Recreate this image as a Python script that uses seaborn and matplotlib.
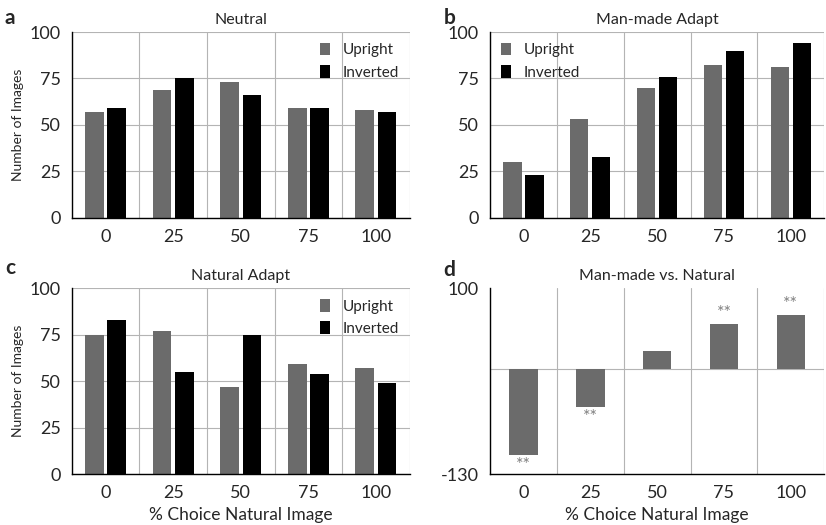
import matplotlib
matplotlib.use("Agg")
import matplotlib.pyplot as plt
import seaborn as sns
import pandas as pd
from matplotlib.ticker import FixedLocator

# data
choices = ["0", "25", "50", "75", "100"]
orients = ["Upright", "Inverted"]

neutral_up = [57, 69, 73, 59, 58]
neutral_inv = [59, 75, 66, 59, 57]
manmade_up = [30, 53, 70, 82, 81]
manmade_inv = [23, 33, 76, 90, 94]
natural_up = [75, 77, 47, 59, 57]
natural_inv = [83, 55, 75, 54, 49]
diff_vals = [-107, -47, 22, 56, 67]
diff_sig = ["**", "**", "", "**", "**"]

sns.set_style("white")
plt.rcParams["font.family"] = ["Lato", "DejaVu Sans"]
plt.rcParams["axes.unicode_minus"] = False

palette = {"Upright": "#6b6b6b", "Inverted": "#000000"}
grid_c = "#b4b4b4"


def long_df(up, inv):
    return pd.DataFrame({
        "choice": choices * 2,
        "orient": ["Upright"] * 5 + ["Inverted"] * 5,
        "count": up + inv,
    })


def style_axes(ax, ymin, ymax, yticks):
    ax.set_xlim(-0.5, 4.5)
    ax.set_ylim(ymin, ymax)
    ax.set_yticks(yticks)
    ax.xaxis.set_minor_locator(FixedLocator([-0.5, 0.5, 1.5, 2.5, 3.5, 4.5]))
    ax.tick_params(axis="x", which="major", length=0, labelsize=13, pad=8)
    ax.tick_params(axis="x", which="minor", direction="inout", length=8, width=1)
    ax.tick_params(axis="y", direction="inout", length=8, width=1, labelsize=13, pad=4)
    ax.set_axisbelow(True)
    ax.grid(True, axis="y", which="major", color=grid_c, lw=0.8)
    ax.grid(True, axis="x", which="minor", color=grid_c, lw=0.8)
    ax.grid(False, axis="x", which="major")
    for s in ["top", "right"]:
        ax.spines[s].set_visible(False)
    for s in ["left", "bottom"]:
        ax.spines[s].set_color("black")
        ax.spines[s].set_linewidth(1.0)
    ax.set_xlabel("")
    ax.set_ylabel("")


fig = plt.figure(figsize=(8.26, 5.25), dpi=100)
ax_a = fig.add_axes([0.087, 0.585, 0.409, 0.354])
ax_b = fig.add_axes([0.593, 0.585, 0.405, 0.354])
ax_c = fig.add_axes([0.087, 0.097, 0.409, 0.354])
ax_d = fig.add_axes([0.593, 0.097, 0.405, 0.354])

panels = [
    (ax_a, neutral_up, neutral_inv, "Neutral", "upper right"),
    (ax_b, manmade_up, manmade_inv, "Man-made Adapt", "upper left"),
    (ax_c, natural_up, natural_inv, "Natural Adapt", "upper right"),
]
for ax, up, inv, title, loc in panels:
    sns.barplot(data=long_df(up, inv), x="choice", y="count", hue="orient",
                hue_order=orients, palette=palette, width=0.66, gap=0.16,
                saturation=1, linewidth=0, ax=ax)
    style_axes(ax, 0, 100, [0, 25, 50, 75, 100])
    ax.set_title(title, fontsize=11.5, pad=6)
    ax.legend(loc=loc, frameon=False, fontsize=11, handlelength=0.7,
              handleheight=0.9, handletextpad=0.8, labelspacing=0.5,
              borderaxespad=0.3)

ax_a.set_ylabel("Number of Images", fontsize=10)
ax_c.set_ylabel("Number of Images", fontsize=10)
ax_c.set_xlabel("% Choice Natural Image", fontsize=12.5)

# panel d
df_d = pd.DataFrame({"choice": choices, "diff": diff_vals})
sns.barplot(data=df_d, x="choice", y="diff", color="#6b6b6b", width=0.43,
            saturation=1, linewidth=0, ax=ax_d)
style_axes(ax_d, -130, 100, [-130, 100])
ax_d.grid(False, axis="y")
ax_d.axhline(0, color=grid_c, lw=0.8, zorder=0)
ax_d.set_title("Man-made vs. Natural", fontsize=11.5, pad=6)
ax_d.set_xlabel("% Choice Natural Image", fontsize=12.5)
for i, (v, s) in enumerate(zip(diff_vals, diff_sig)):
    if not s:
        continue
    if v > 0:
        ax_d.text(i, v + 3, s, ha="center", va="bottom", color="#808080", fontsize=13)
    else:
        ax_d.text(i, v - 2, s, ha="center", va="top", color="#808080", fontsize=13)

# panel letters
for x, y, l in [(0.006, 0.965, "a"), (0.537, 0.965, "b"),
                (0.006, 0.49, "c"), (0.537, 0.485, "d")]:
    fig.text(x, y, l, fontsize=15, fontweight="bold", ha="left", va="center")

fig.savefig("out.png", dpi=100)
